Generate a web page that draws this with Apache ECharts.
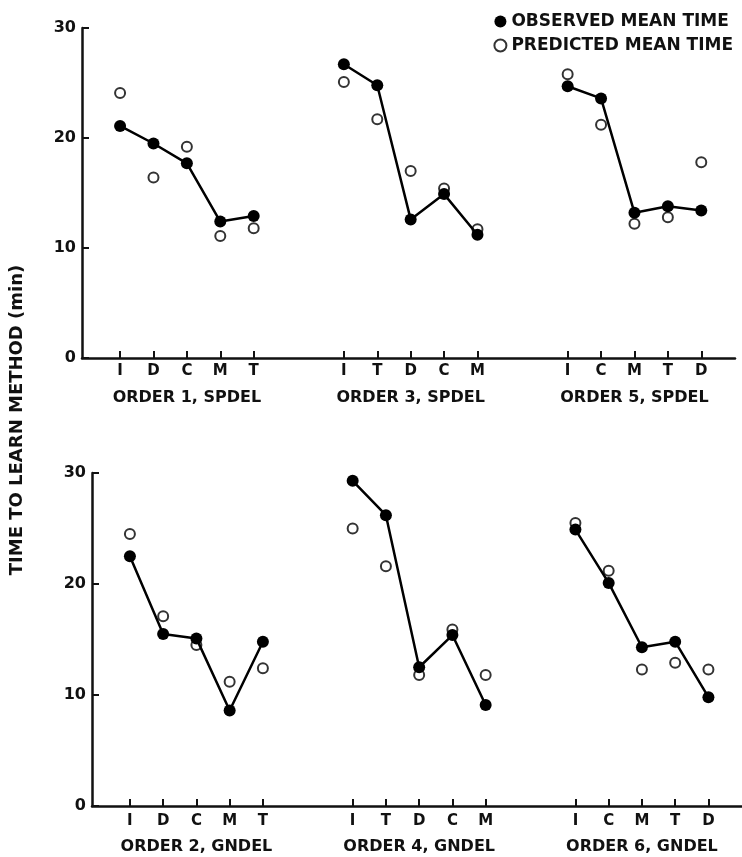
<!DOCTYPE html>
<html>
<head>
<meta charset="utf-8">
<script src="https://cdn.jsdelivr.net/npm/echarts@6/dist/echarts.min.js"></script>
<style>
  html, body { margin: 0; padding: 0; background: #fff; }
  #main { width: 742px; height: 857px; }
</style>
</head>
<body>
<div id="main"></div>
<script>
// categories for each order (same sequence in both panels)
const groupCats = [['I', 'D', 'C', 'M', 'T'], ['I', 'T', 'D', 'C', 'M'], ['I', 'C', 'M', 'T', 'D']];
const topTitles = ['ORDER 1, SPDEL', 'ORDER 3, SPDEL', 'ORDER 5, SPDEL'];
const bottomTitles = ['ORDER 2, GNDEL', 'ORDER 4, GNDEL', 'ORDER 6, GNDEL'];

// observed / predicted mean time (min)
const topObserved = [[21.1, 19.5, 17.7, 12.4, 12.9], [26.7, 24.8, 12.6, 14.9, 11.2], [24.7, 23.6, 13.2, 13.8, 13.4]];
const topPredicted = [[24.1, 16.4, 19.2, 11.1, 11.8], [25.1, 21.7, 17.0, 15.4, 11.7], [25.8, 21.2, 12.2, 12.8, 17.8]];
const bottomObserved = [[22.5, 15.5, 15.1, 8.6, 14.8], [29.3, 26.2, 12.5, 15.4, 9.1], [24.9, 20.1, 14.3, 14.8, 9.8]];
const bottomPredicted = [[24.5, 17.1, 14.5, 11.2, 12.4], [25.0, 21.6, 11.8, 15.9, 11.8], [25.5, 21.2, 12.3, 12.9, 12.3]];

const yTicks = [0, 10, 20, 30];

// slot layout on the x value axis
const firstPos = 1.14;
const groupStep = 6.7;
const xMax = 19.55;

const font = 'DejaVu Sans';
const ink = '#111';

function pos(g, i) {
    return +(firstPos + g * groupStep + i).toFixed(2);
}

let letterPos = [];
let letterMap = {};
groupCats.forEach(function (cats, g) {
    cats.forEach(function (c, i) {
        let p = pos(g, i);
        letterPos.push(p);
        letterMap[p.toFixed(2)] = c;
    });
});
let titlePos = [0, 1, 2].map(function (g) { return pos(g, 2); });

function letterAxis(gridIndex, margin) {
    return {
        type: 'value', gridIndex: gridIndex, min: 0, max: xMax,
        axisLine: { show: true, lineStyle: { color: ink, width: 2.5 } },
        axisTick: { show: true, inside: true, length: 7, customValues: letterPos, lineStyle: { color: ink, width: 2 } },
        axisLabel: {
            customValues: letterPos, margin: margin,
            fontFamily: font, fontWeight: 'bold', fontSize: 15, color: ink,
            formatter: function (v) { return letterMap[v.toFixed(2)] || ''; }
        },
        splitLine: { show: false }
    };
}

function titleAxis(gridIndex, titles, margin) {
    return {
        type: 'value', gridIndex: gridIndex, min: 0, max: xMax, position: 'bottom',
        axisLine: { show: false }, axisTick: { show: false }, splitLine: { show: false },
        axisLabel: {
            customValues: titlePos, margin: margin,
            fontFamily: font, fontWeight: 'bold', fontSize: 16, color: ink,
            formatter: function (v) {
                let idx = titlePos.findIndex(function (p) { return Math.abs(p - v) < 0.01; });
                return idx >= 0 ? titles[idx] : '';
            }
        }
    };
}

function yAxis(gridIndex) {
    return {
        type: 'value', gridIndex: gridIndex, min: 0, max: 30, interval: 10,
        axisLine: { show: true, lineStyle: { color: ink, width: 2.5 } },
        axisTick: { show: true, inside: true, length: 7, lineStyle: { color: ink, width: 2 } },
        axisLabel: {
            margin: 6, fontFamily: font, fontWeight: 'bold', fontSize: 16, color: ink,
            formatter: function (v) { return yTicks.indexOf(v) >= 0 ? String(v) : ''; }
        },
        splitLine: { show: false }
    };
}

let series = [];
function addPanel(obs, pred, axisIdx) {
    obs.forEach(function (vals, g) {
        series.push({
            name: 'OBSERVED MEAN TIME', type: 'line',
            xAxisIndex: axisIdx.x, yAxisIndex: axisIdx.y,
            data: vals.map(function (v, i) { return [pos(g, i), v]; }),
            symbol: 'circle', symbolSize: 12,
            itemStyle: { color: '#000' },
            lineStyle: { color: '#000', width: 2.5 },
            z: 3
        });
    });
    let pts = [];
    pred.forEach(function (vals, g) {
        vals.forEach(function (v, i) { pts.push([pos(g, i), v]); });
    });
    series.push({
        name: 'PREDICTED MEAN TIME', type: 'scatter',
        xAxisIndex: axisIdx.x, yAxisIndex: axisIdx.y,
        data: pts, symbol: 'circle', symbolSize: 10,
        itemStyle: { color: '#fff', borderColor: '#000', borderWidth: 2 },
        z: 2
    });
}
addPanel(topObserved, topPredicted, { x: 0, y: 0 });
addPanel(bottomObserved, bottomPredicted, { x: 2, y: 1 });

let chart = echarts.init(document.getElementById('main'));
chart.setOption({
    animation: false,
    backgroundColor: '#fff',
    legend: {
        orient: 'vertical', right: 4, top: 8, itemGap: 7,
        itemWidth: 12, itemHeight: 12,
        textStyle: { fontFamily: font, fontWeight: 'bold', fontSize: 17, color: ink },
        data: [
            { name: 'OBSERVED MEAN TIME', icon: 'circle', itemStyle: { color: '#000' } },
            { name: 'PREDICTED MEAN TIME', icon: 'circle', itemStyle: { color: '#fff', borderColor: '#000', borderWidth: 2 } }
        ]
    },
    grid: [
        { left: 82, top: 28, width: 653, height: 330 },
        { left: 92, top: 473, width: 650, height: 333 }
    ],
    xAxis: [
        letterAxis(0, 6),
        titleAxis(0, topTitles, 32),
        letterAxis(1, 8),
        titleAxis(1, bottomTitles, 33)
    ],
    yAxis: [yAxis(0), yAxis(1)],
    graphic: [{
        type: 'text', x: 17, y: 420, rotation: Math.PI / 2,
        style: {
            text: 'TIME TO LEARN METHOD (min)', fill: ink,
            font: 'bold 18px "DejaVu Sans"', textAlign: 'center', textVerticalAlign: 'middle'
        }
    }],
    series: series
});
</script>
</body>
</html>
